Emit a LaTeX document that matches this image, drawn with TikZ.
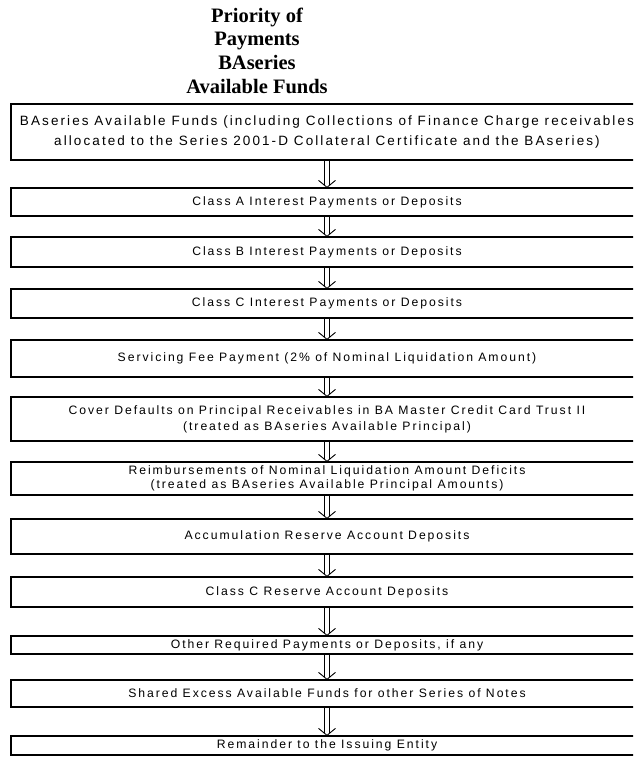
\documentclass[tikz,border=0pt]{standalone}
\usepackage{fontspec}
\setmainfont{Liberation Sans}
\newfontfamily\titlefont{Liberation Serif}
\newfontfamily\boxfont[LetterSpace=16]{Liberation Sans}
\newfontfamily\topfont[LetterSpace=15.5]{Liberation Sans}
\begin{document}
\begin{tikzpicture}[x=1pt,y=-1pt,
  box/.style={draw=black, line width=1.3pt, minimum width=632pt, inner sep=0pt, align=center,
    font=\boxfont\fontsize{12.2}{15}\selectfont},
  topbox/.style={box, font=\topfont\fontsize{13.5}{19.5}\selectfont},
  shaft/.style={draw=black, line width=0.9pt},
  head/.style={draw=black, line width=0.9pt, line join=miter},
  ttl/.style={anchor=base, inner sep=0pt, font=\titlefont\bfseries\fontsize{20.5}{24}\selectfont}]
\useasboundingbox (0,0) rectangle (633,772);
\fill[white] (0,0) rectangle (633,772);
\clip (0,0) rectangle (633,772);
% title
\node[ttl] (t1) at (257,22) {Priority of};
\node[ttl] (t2) at (257,45.7) {Payments};
\node[ttl] (t3) at (257,69.3) {BAseries};
\node[ttl] (t4) at (257,93) {Available Funds};
% boxes
\node[topbox, minimum height=56pt] (b0) at (327,132) {BAseries Available Funds (including Collections of Finance Charge receivables\\allocated to the Series 2001-D Collateral Certificate and the BAseries)};
\node[box, minimum height=28pt] (b1) at (327,202) {Class A Interest Payments or Deposits};
\node[box, minimum height=30pt] (b2) at (327,252) {Class B Interest Payments or Deposits};
\node[box, minimum height=29pt] (b3) at (327,303.5) {Class C Interest Payments or Deposits};
\node[box, minimum height=37pt] (b4) at (327,358.5) {Servicing Fee Payment (2\% of Nominal Liquidation Amount)};
\node[box, minimum height=44pt, font=\boxfont\fontsize{12.2}{16}\selectfont] (b5) at (327,419) {Cover Defaults on Principal Receivables in BA Master Credit Card Trust II\\(treated as BAseries Available Principal)};
\node[box, minimum height=33pt, font=\boxfont\fontsize{12.2}{14}\selectfont] (b6) at (327,478.5) {Reimbursements of Nominal Liquidation Amount Deficits\\(treated as BAseries Available Principal Amounts)};
\node[box, minimum height=35pt] (b7) at (327,536.5) {Accumulation Reserve Account Deposits};
\node[box, minimum height=30pt] (b8) at (327,592) {Class C Reserve Account Deposits};
\node[box, minimum height=18pt] (b9) at (327,645) {Other Required Payments or Deposits, if any};
\node[box, minimum height=27pt] (b10) at (327,693.5) {Shared Excess Available Funds for other Series of Notes};
\node[box, minimum height=19pt] (b11) at (327,745.5) {Remainder to the Issuing Entity};
% arrows: double shaft with open head
\foreach \a/\b in {b0/b1,b1/b2,b2/b3,b3/b4,b4/b5,b5/b6,b6/b7,b7/b8,b8/b9,b9/b10,b10/b11}{
  \draw[shaft] ([xshift=-2.2pt]\a.south) -- ([xshift=-2.2pt,yshift=2.2pt]\b.north);
  \draw[shaft] ([xshift=2.2pt]\a.south) -- ([xshift=2.2pt,yshift=2.2pt]\b.north);
  \draw[head] ([xshift=-8.5pt,yshift=7pt]\b.north) -- (\b.north) -- ([xshift=8.5pt,yshift=7pt]\b.north);
}
\end{tikzpicture}
\end{document}
